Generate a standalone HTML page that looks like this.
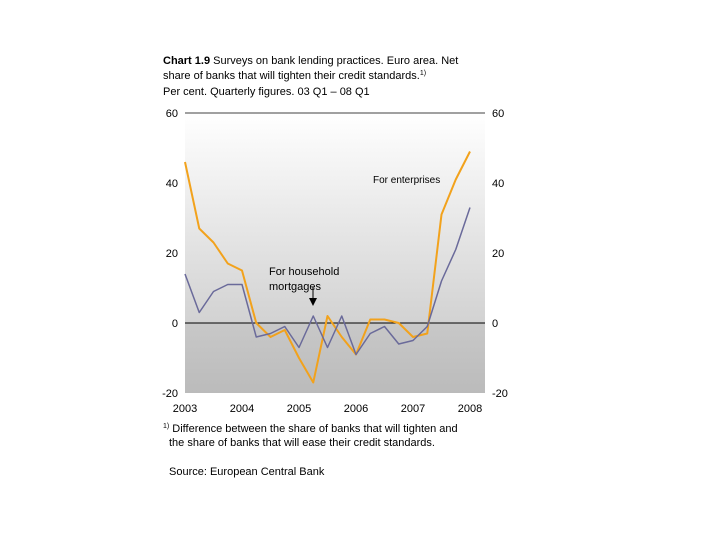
<!DOCTYPE html>
<html><head><meta charset="utf-8"><style>
body{margin:0;background:#fff;font-family:"Liberation Sans",sans-serif;}
#wrap{position:relative;width:720px;height:540px;overflow:hidden;}
.t{position:absolute;font-size:11px;color:#000;white-space:nowrap;line-height:13px;}
sup{font-size:7px;line-height:0;vertical-align:4px;}
</style></head><body>
<div id="wrap">
<div class="t" style="left:163px;top:55px"><b>Chart 1.9</b> Surveys on bank lending practices. Euro area. Net</div>
<div class="t" style="left:163px;top:70px">share of banks that will tighten their credit standards.<sup>1)</sup></div>
<div class="t" style="left:163px;top:86px">Per cent. Quarterly figures. 03 Q1 – 08 Q1</div>
<svg id="svg" width="720" height="540" style="position:absolute;left:0;top:0">
<defs><linearGradient id="bg" x1="0" y1="0" x2="0" y2="1">
<stop offset="0" stop-color="#ffffff"/><stop offset="0.75" stop-color="#d2d2d2"/><stop offset="0.75" stop-color="#c8c8c8"/><stop offset="1" stop-color="#bbbbbb"/></linearGradient></defs>
</svg>
<div class="t" style="left:163px;top:423px"><sup>1)</sup> Difference between the share of banks that will tighten and</div>
<div class="t" style="left:169px;top:437px">the share of banks that will ease their credit standards.</div>
<div class="t" style="left:169px;top:466px">Source: European Central Bank</div>
</div>
<script>
const years=["2003","2004","2005","2006","2007","2008"];
const yTicks=[60,40,20,0,-20];
const enterprises=[46,27,23,17,15,0,-4,-2,-10,-17,2,-4,-9,1,1,0,-4,-3,31,41,49];
const households=[14,3,9,11,11,-4,-3,-1,-7,2,-7,2,-9,-3,-1,-6,-5,-1,12,21,33];
const X0=185,X1=485,Y0=113,Y1=393;
const xq=i=>X0+i*(470-185)/20;
const y=v=>Y0+(60-v)*(Y1-Y0)/80;
const svg=document.getElementById('svg');
const NS='http://www.w3.org/2000/svg';
function mk(tag,attrs,name){const e=document.createElementNS(NS,tag);for(const k in attrs)e.setAttribute(k,attrs[k]);


svg.appendChild(e);return e;}
mk('rect',{x:X0,y:Y0,width:X1-X0,height:Y1-Y0,fill:'url(#bg)'},'plot-background');
mk('line',{x1:X0,y1:Y0,x2:X1,y2:Y0,stroke:'#000','stroke-width':0.8},'top-border');
mk('line',{x1:X0,y1:y(0),x2:X1,y2:y(0),stroke:'#000','stroke-width':1},'zero-line');
yTicks.forEach(v=>{
 const l=mk('text',{x:178,y:y(v)+4,'font-size':11,'text-anchor':'end','font-family':'Liberation Sans'},'y-tick-left');l.textContent=v;
 const r=mk('text',{x:492,y:y(v)+4,'font-size':11,'font-family':'Liberation Sans'},'y-tick-right');r.textContent=v;
});
years.forEach((yr,i)=>{const t=mk('text',{x:xq(i*4),y:412,'font-size':11,'text-anchor':'middle','font-family':'Liberation Sans'},'x-tick-label');t.textContent=yr;});
function line(d,c,w,n){mk('polyline',{points:d.map((v,i)=>xq(i)+','+y(v)).join(' '),fill:'none',stroke:c,'stroke-width':w,'stroke-linejoin':'round'},n);}
line(enterprises,'#f2a21c',2,'enterprises-line');
line(households,'#6a6a9a',1.5,'households-line');
const a=mk('text',{x:373,y:183,'font-size':10,'font-family':'Liberation Sans'},'enterprises-label');a.textContent='For enterprises';
const b=mk('text',{x:269,y:275,'font-size':11,'font-family':'Liberation Sans'},'households-label-1');b.textContent='For household';
const c=mk('text',{x:269,y:290,'font-size':11,'font-family':'Liberation Sans'},'households-label-2');c.textContent='mortgages';
mk('line',{x1:313,y1:287,x2:313,y2:300,stroke:'#000','stroke-width':1},'arrow-shaft');
mk('polygon',{points:'309,298 317,298 313,306',fill:'#000'},'arrow-head');
</script>
</body></html>
